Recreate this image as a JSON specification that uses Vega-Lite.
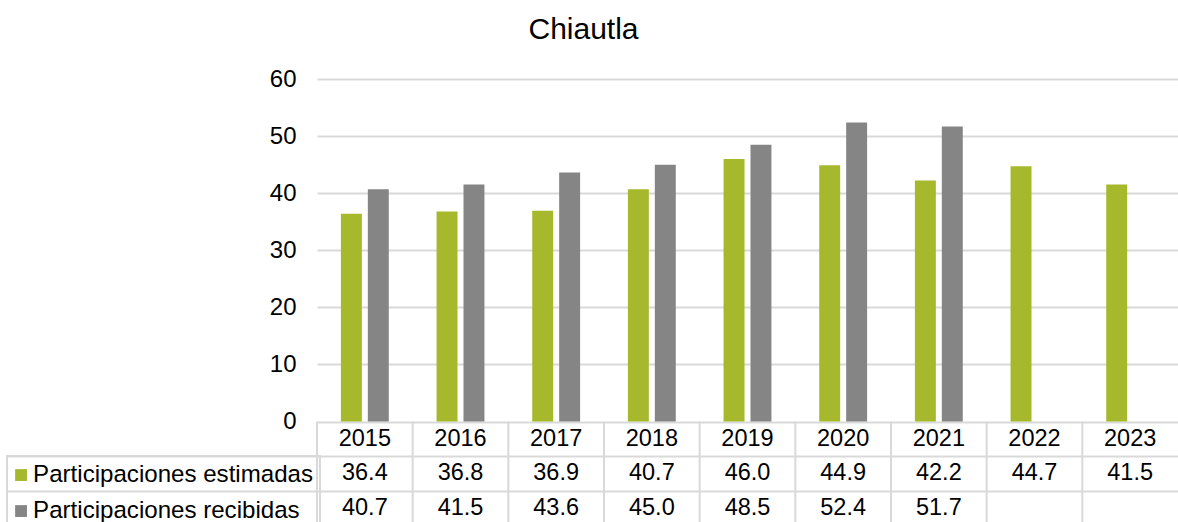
{
  "$schema": "https://vega.github.io/schema/vega-lite/v6.json",
  "autosize": {"type": "none"},
  "padding": {"left": 317, "top": 79, "right": 0, "bottom": 0},
  "width": 861,
  "height": 443,
  "title": {"text": "Chiautla", "fontSize": 30, "font": "Liberation Sans", "fontWeight": "normal", "color": "#000000", "anchor": "middle", "frame": "group", "dx": -164, "baseline": "alphabetic", "offset": -2},
  "config": {"view": {"stroke": null}, "font": "Liberation Sans"},
  "datasets": {
    "bars": [
      {"year": "2015", "series": "Participaciones estimadas", "value": 36.4},
      {"year": "2016", "series": "Participaciones estimadas", "value": 36.8},
      {"year": "2017", "series": "Participaciones estimadas", "value": 36.9},
      {"year": "2018", "series": "Participaciones estimadas", "value": 40.7},
      {"year": "2019", "series": "Participaciones estimadas", "value": 46.0},
      {"year": "2020", "series": "Participaciones estimadas", "value": 44.9},
      {"year": "2021", "series": "Participaciones estimadas", "value": 42.2},
      {"year": "2022", "series": "Participaciones estimadas", "value": 44.7},
      {"year": "2023", "series": "Participaciones estimadas", "value": 41.5},
      {"year": "2015", "series": "Participaciones recibidas", "value": 40.7},
      {"year": "2016", "series": "Participaciones recibidas", "value": 41.5},
      {"year": "2017", "series": "Participaciones recibidas", "value": 43.6},
      {"year": "2018", "series": "Participaciones recibidas", "value": 45.0},
      {"year": "2019", "series": "Participaciones recibidas", "value": 48.5},
      {"year": "2020", "series": "Participaciones recibidas", "value": 52.4},
      {"year": "2021", "series": "Participaciones recibidas", "value": 51.7}
    ],
    "years": [
      {"year": "2015"}, {"year": "2016"}, {"year": "2017"}, {"year": "2018"}, {"year": "2019"},
      {"year": "2020"}, {"year": "2021"}, {"year": "2022"}, {"year": "2023"}
    ]
  },
  "layer": [
    {
      "data": {"name": "bars"},
      "mark": {"type": "bar"},
      "encoding": {
        "x": {"field": "year", "type": "nominal", "scale": {"paddingInner": 0, "paddingOuter": 0}, "axis": null},
        "xOffset": {"field": "series", "type": "nominal", "scale": {"domain": ["Participaciones estimadas", "Participaciones recibidas"], "paddingInner": 0.222, "paddingOuter": 0.887}},
        "y": {
          "field": "value", "type": "quantitative",
          "scale": {"domain": [-17.6, 60], "nice": false, "zero": false},
          "axis": {
            "values": [0, 10, 20, 30, 40, 50, 60, -6.04, -12.17],
            "title": null, "domain": false, "grid": true, "gridColor": "#D9D9D9", "gridWidth": 2,
            "ticks": true, "tickColor": "#D9D9D9", "tickWidth": 2,
            "tickSize": {"condition": {"test": "datum.value < 0", "value": 310}, "value": 0},
            "labelExpr": "datum.value < 0 ? '' : datum.label",
            "labelFontSize": 24, "labelColor": "#000000", "labelPadding": 21, "labelFont": "Liberation Sans",
            "labelOverlap": false, "labelFlush": false
          }
        },
        "y2": {"datum": 0},
        "color": {
          "field": "series", "type": "nominal",
          "scale": {"domain": ["Participaciones estimadas", "Participaciones recibidas"], "range": ["#A6B82B", "#858585"]},
          "legend": {
            "title": null, "orient": "none", "legendX": -310, "legendY": 377, "direction": "vertical",
            "symbolType": "square", "symbolSize": 140, "symbolStrokeWidth": 0, "symbolOffset": -5,
            "labelFontSize": 24.1, "labelColor": "#000000", "labelFont": "Liberation Sans", "labelOffset": 0,
            "labelLimit": 400, "rowPadding": 11, "padding": 7, "strokeColor": "#D9D9D9",
            "encode": {"legend": {"update": {"strokeWidth": {"value": 2}}}}
          }
        }
      }
    },
    {
      "data": {"name": "years"},
      "mark": {"type": "rule", "color": "#D9D9D9", "strokeWidth": 2},
      "encoding": {
        "x": {"field": "year", "type": "nominal", "bandPosition": 0},
        "y": {"datum": 0},
        "y2": {"datum": -17.6}
      }
    },
    {
      "data": {"name": "years"},
      "mark": {"type": "text", "fontSize": 23.5, "color": "#000000", "font": "Liberation Sans"},
      "encoding": {
        "x": {"field": "year", "type": "nominal"},
        "y": {"datum": -3.02},
        "text": {"field": "year"}
      }
    },
    {
      "data": {"name": "bars"},
      "transform": [{"filter": "datum.series == 'Participaciones estimadas'"}],
      "mark": {"type": "text", "fontSize": 23.5, "color": "#000000", "font": "Liberation Sans"},
      "encoding": {
        "x": {"field": "year", "type": "nominal"},
        "y": {"datum": -9.1},
        "text": {"field": "value", "type": "quantitative", "format": ".1f"}
      }
    },
    {
      "data": {"name": "bars"},
      "transform": [{"filter": "datum.series == 'Participaciones recibidas'"}],
      "mark": {"type": "text", "fontSize": 23.5, "color": "#000000", "font": "Liberation Sans"},
      "encoding": {
        "x": {"field": "year", "type": "nominal"},
        "y": {"datum": -15.2},
        "text": {"field": "value", "type": "quantitative", "format": ".1f"}
      }
    }
  ]
}
